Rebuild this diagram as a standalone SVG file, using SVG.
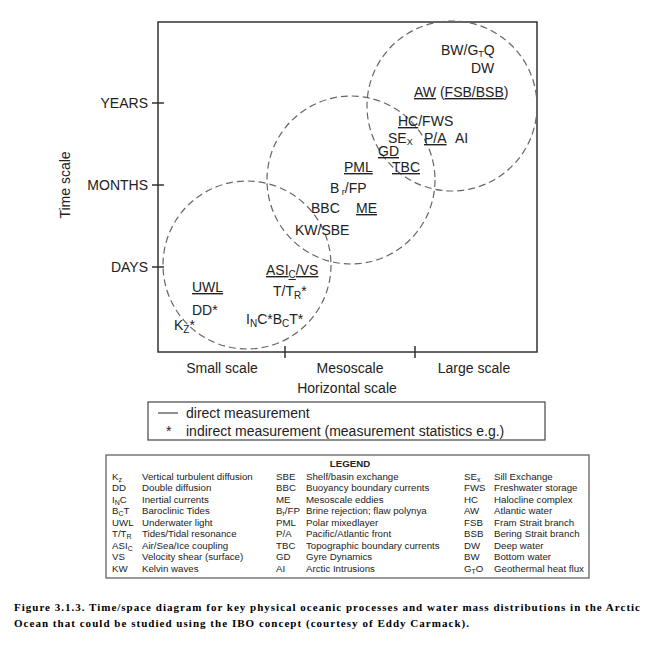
<svg xmlns="http://www.w3.org/2000/svg" width="655" height="648" viewBox="0 0 655 648">
<style>
text{font-family:"Liberation Sans",Arial,sans-serif;fill:#222}
.l{font-size:14px}
.u{text-decoration:underline}
.c{fill:none;stroke:#666;stroke-width:1.2;stroke-dasharray:7 4}
.g{font-size:9.7px}
.s{font-size:7px}
.ax{stroke:#333;stroke-width:1.5;fill:none}
.cap{font-family:"Liberation Serif",serif;font-weight:bold;font-size:11px;fill:#000}
</style>
<rect width="655" height="648" fill="#fff"/>
<g id="frame">
<rect class="ax" x="158" y="22" width="379" height="330"/>
<path class="ax" d="M152 103H164M152 185H164M152 267H164M285 346V358M415 346V358"/>
<text class="l" x="148" y="108" text-anchor="end">YEARS</text>
<text class="l" x="148" y="190" text-anchor="end">MONTHS</text>
<text class="l" x="148" y="272" text-anchor="end">DAYS</text>
<text class="l" transform="translate(70,185) rotate(-90)" text-anchor="middle">Time scale</text>
<text class="l" x="222" y="373" text-anchor="middle">Small scale</text>
<text class="l" x="350" y="373" text-anchor="middle">Mesoscale</text>
<text class="l" x="474" y="373" text-anchor="middle">Large scale</text>
<text class="l" x="347" y="393" text-anchor="middle">Horizontal scale</text>
</g>
<g id="circles">
<circle class="c" cx="247" cy="265" r="84"/>
<circle class="c" cx="351" cy="180" r="84"/>
<circle class="c" cx="452" cy="106" r="85"/>
</g>
<g id="labels" class="l">
<text x="441" y="55">BW/G<tspan font-size="9" dy="2">T</tspan><tspan dy="-2">Q</tspan></text>
<text x="471" y="73">DW</text>
<text x="414" y="97"><tspan class="u">AW</tspan> (<tspan class="u">FSB/BSB</tspan>)</text>
<text x="398" y="126"><tspan class="u">HC</tspan>/FWS</text>
<text x="388" y="143">SE<tspan font-size="9" dy="2">X</tspan></text>
<text x="424" y="143" class="u">P/A</text>
<text x="455" y="143">AI</text>
<text x="378" y="156" class="u">GD</text>
<text x="344" y="172" class="u">PML</text>
<text x="392" y="172" class="u">TBC</text>
<text x="330" y="193">B<tspan font-size="9" dy="2"> r</tspan><tspan dy="-2">/FP</tspan></text>
<text x="311" y="213">BBC</text>
<text x="356" y="213" class="u">ME</text>
<text x="295" y="235">KW/SBE</text>
<text x="266" y="275" class="u">ASI<tspan font-size="10" dy="3">C</tspan><tspan dy="-3">/VS</tspan></text>
<text x="273" y="296">T/T<tspan font-size="10" dy="3">R</tspan><tspan dy="-3">*</tspan></text>
<text x="192" y="292" class="u">UWL</text>
<text x="192" y="315">DD*</text>
<text x="174" y="330">K<tspan font-size="10" dy="3">Z</tspan><tspan dy="-3">*</tspan></text>
<text x="246" y="324">I<tspan font-size="10" dy="3">N</tspan><tspan dy="-3">C*B</tspan><tspan font-size="10" dy="3">C</tspan><tspan dy="-3">T*</tspan></text>
</g>
<g id="key">
<rect x="148" y="402" width="397" height="38" fill="none" stroke="#444" stroke-width="1.2"/>
<line x1="158" y1="413" x2="178" y2="413" stroke="#222"/>
<text class="l" x="186" y="418">direct measurement</text>
<text class="l" x="166" y="436">*</text>
<text class="l" x="186" y="436">indirect measurement (measurement statistics e.g.)</text>
</g>
<g id="legend" class="g">
<rect x="106" y="455" width="483" height="123" fill="none" stroke="#555" stroke-width="1.2"/>
<text x="350" y="467" text-anchor="middle" font-weight="bold">LEGEND</text>
<text x="112" y="480">K<tspan class="s" dy="2">z</tspan></text><text x="142" y="480">Vertical turbulent diffusion</text>
<text x="112" y="491">DD</text><text x="142" y="491">Double diffusion</text>
<text x="112" y="503">I<tspan class="s" dy="2">N</tspan><tspan dy="-2">C</tspan></text><text x="142" y="503">Inertial currents</text>
<text x="112" y="514">B<tspan class="s" dy="2">C</tspan><tspan dy="-2">T</tspan></text><text x="142" y="514">Baroclinic Tides</text>
<text x="112" y="526">UWL</text><text x="142" y="526">Underwater light</text>
<text x="112" y="537">T/T<tspan class="s" dy="2">R</tspan></text><text x="142" y="537">Tides/Tidal resonance</text>
<text x="112" y="549">ASI<tspan class="s" dy="2">C</tspan></text><text x="142" y="549">Air/Sea/Ice coupling</text>
<text x="112" y="560">VS</text><text x="142" y="560">Velocity shear (surface)</text>
<text x="112" y="572">KW</text><text x="142" y="572">Kelvin waves</text>
<text x="276" y="480">SBE</text><text x="306" y="480">Shelf/basin exchange</text>
<text x="276" y="491">BBC</text><text x="306" y="491">Buoyancy boundary currents</text>
<text x="276" y="503">ME</text><text x="306" y="503">Mesoscale eddies</text>
<text x="276" y="514">B<tspan class="s" dy="2">r</tspan><tspan dy="-2">/FP</tspan></text><text x="306" y="514">Brine rejection; flaw polynya</text>
<text x="276" y="526">PML</text><text x="306" y="526">Polar mixedlayer</text>
<text x="276" y="537">P/A</text><text x="306" y="537">Pacific/Atlantic front</text>
<text x="276" y="549">TBC</text><text x="306" y="549">Topographic boundary currents</text>
<text x="276" y="560">GD</text><text x="306" y="560">Gyre Dynamics</text>
<text x="276" y="572">AI</text><text x="306" y="572">Arctic Intrusions</text>
<text x="464" y="480">SE<tspan class="s" dy="2">x</tspan></text><text x="494" y="480">Sill Exchange</text>
<text x="464" y="491">FWS</text><text x="494" y="491">Freshwater storage</text>
<text x="464" y="503">HC</text><text x="494" y="503">Halocline complex</text>
<text x="464" y="514">AW</text><text x="494" y="514">Atlantic water</text>
<text x="464" y="526">FSB</text><text x="494" y="526">Fram Strait branch</text>
<text x="464" y="537">BSB</text><text x="494" y="537">Bering Strait branch</text>
<text x="464" y="549">DW</text><text x="494" y="549">Deep water</text>
<text x="464" y="560">BW</text><text x="494" y="560">Bottom water</text>
<text x="464" y="572">G<tspan class="s" dy="2">T</tspan><tspan dy="-2">O</tspan></text><text x="494" y="572">Geothermal heat flux</text>
</g>
<g id="caption">
<text class="cap" x="14" y="611" textLength="626" lengthAdjust="spacing">Figure 3.1.3. Time/space diagram for key physical oceanic processes and water mass distributions in the Arctic</text>
<text class="cap" x="14" y="627" textLength="455" lengthAdjust="spacing">Ocean that could be studied using the IBO concept (courtesy of Eddy Carmack).</text>
</g>
</svg>
